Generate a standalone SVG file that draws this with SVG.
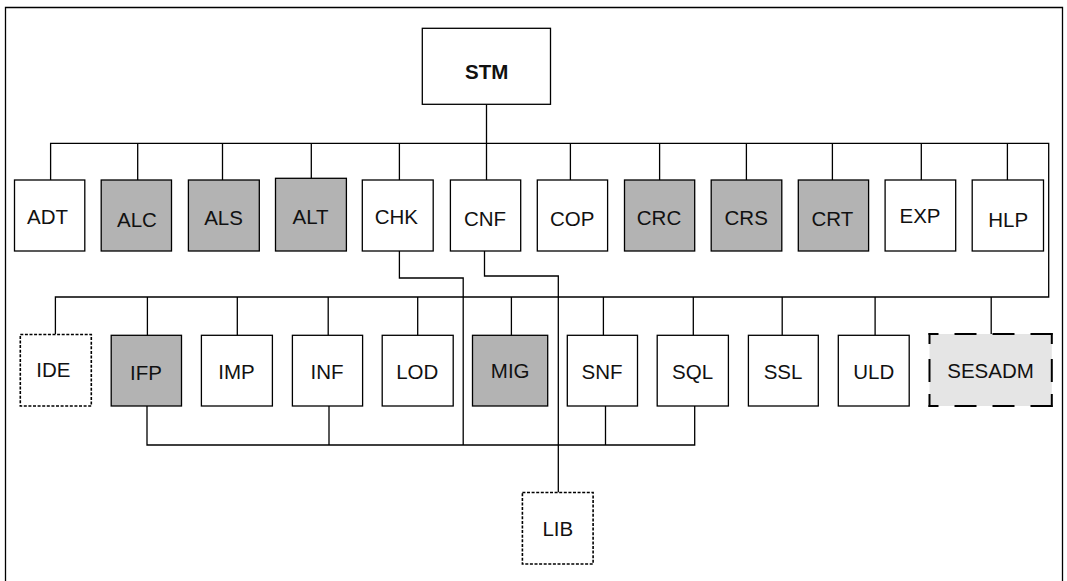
<svg xmlns="http://www.w3.org/2000/svg" width="1067" height="581" viewBox="0 0 1067 581">
<style>
  .box { fill: #ffffff; stroke: #000; stroke-width: 1.3; }
  .grey { fill: #b3b3b3; stroke: #000; stroke-width: 1.3; }
  .dot { fill: #ffffff; stroke: #000; stroke-width: 1.6; stroke-dasharray: 3 1.6; }
  .lbl { font-family: "Liberation Sans", Arial, sans-serif; font-size: 20.5px; fill: #111; text-anchor: middle; }
  .bold { font-weight: bold; }
  .ln { fill: none; stroke: #000; stroke-width: 1.3; }
  .sd { fill: none; stroke: #000; stroke-width: 2; }
</style>
<rect width="1067" height="581" fill="#ffffff"/>
<path class="ln" d="M5.5,590 V7.5 H1062.5 V590"/>
<g id="connectors">
  <path class="ln" d="M486.5,104.3 V143.3"/>
  <path class="ln" d="M50.6,180 V143.3 H1048.7 V297 H55.4 V334"/>
  <path class="ln" d="M137.7,143.3 V180 M222.5,143.3 V180 M311.3,143.3 V178.3 M399.4,143.3 V180 M570.4,143.3 V180 M659.6,143.3 V180 M746.4,143.3 V180 M832.4,143.3 V180 M921.3,143.3 V180 M1007.4,143.3 V180 M486.5,143.3 V180"/>
  <path class="ln" d="M147.4,297 V335.3 M237.3,297 V335.3 M328.2,297 V335.3 M417.7,297 V335.3 M511.4,297 V335.3 M603.4,297 V335.3 M693.3,297 V335.3 M782.2,297 V335.3 M875.1,297 V335.3 M991.2,297 V334"/>
  <path class="ln" d="M399.4,251 V278 H463.2 V445"/>
  <path class="ln" d="M484.5,251 V276 H558.3 V492.5"/>
  <path class="ln" d="M147,406 V445 H694.7 V406 M329,406 V445 M605.5,406 V445"/>
</g>
<g id="STM"><rect class="box" x="422.3" y="28.3" width="128.2" height="76"/><text class="lbl bold" x="486.7" y="79">STM</text></g>
<g id="ADT"><rect class="box" x="14.5" y="180" width="70.3" height="71"/><text class="lbl" x="47.5" y="224">ADT</text></g>
<g id="ALC"><rect class="grey" x="101.2" y="180" width="70.3" height="71"/><text class="lbl" x="137" y="226.7">ALC</text></g>
<g id="ALS"><rect class="grey" x="188.4" y="180" width="70.9" height="71"/><text class="lbl" x="223.5" y="225.3">ALS</text></g>
<g id="ALT"><rect class="grey" x="275.5" y="178.3" width="70.9" height="72.7"/><text class="lbl" x="310.6" y="224.3">ALT</text></g>
<g id="CHK"><rect class="box" x="362.3" y="180" width="70.9" height="71"/><text class="lbl" x="396.4" y="224">CHK</text></g>
<g id="CNF"><rect class="box" x="450.4" y="180" width="70.3" height="71"/><text class="lbl" x="485" y="225.7">CNF</text></g>
<g id="COP"><rect class="box" x="537.3" y="180" width="70.3" height="71"/><text class="lbl" x="572.2" y="225.7">COP</text></g>
<g id="CRC"><rect class="grey" x="624.5" y="180" width="70.2" height="71"/><text class="lbl" x="659" y="225.3">CRC</text></g>
<g id="CRS"><rect class="grey" x="711.2" y="180" width="70.6" height="71"/><text class="lbl" x="746.2" y="225.3">CRS</text></g>
<g id="CRT"><rect class="grey" x="798.3" y="180" width="70.3" height="71"/><text class="lbl" x="832.3" y="225.7">CRT</text></g>
<g id="EXP"><rect class="box" x="885.1" y="180" width="70.6" height="71"/><text class="lbl" x="920" y="223">EXP</text></g>
<g id="HLP"><rect class="box" x="972.2" y="180" width="71.3" height="71"/><text class="lbl" x="1008.2" y="226.7">HLP</text></g>
<g id="IDE"><rect class="dot" x="20.3" y="334.5" width="71" height="71.5"/><text class="lbl" x="53.4" y="377.3">IDE</text></g>
<g id="IFP"><rect class="grey" x="111.2" y="335.3" width="70.3" height="70.7"/><text class="lbl" x="146" y="380">IFP</text></g>
<g id="IMP"><rect class="box" x="201.4" y="335.3" width="71" height="70.7"/><text class="lbl" x="236.5" y="379">IMP</text></g>
<g id="INF"><rect class="box" x="292.4" y="335.3" width="70.2" height="70.7"/><text class="lbl" x="327" y="379">INF</text></g>
<g id="LOD"><rect class="box" x="382.2" y="335.3" width="71" height="70.7"/><text class="lbl" x="417.3" y="379">LOD</text></g>
<g id="MIG"><rect class="grey" x="472.5" y="335.3" width="75.2" height="70.7"/><text class="lbl" x="510.2" y="378">MIG</text></g>
<g id="SNF"><rect class="box" x="567.3" y="335.3" width="70.2" height="70.7"/><text class="lbl" x="602" y="379">SNF</text></g>
<g id="SQL"><rect class="box" x="657.2" y="335.3" width="71.2" height="70.7"/><text class="lbl" x="692.6" y="379">SQL</text></g>
<g id="SSL"><rect class="box" x="748.4" y="335.3" width="69.9" height="70.7"/><text class="lbl" x="783" y="379">SSL</text></g>
<g id="ULD"><rect class="box" x="838.3" y="335.3" width="70.9" height="70.7"/><text class="lbl" x="873.8" y="379">ULD</text></g>
<g id="SESADM">
  <rect x="929.5" y="334" width="122.3" height="72" fill="#e5e5e5"/>
  <line class="sd" x1="928.5" y1="334" x2="1052.8" y2="334" stroke-dasharray="10 16 22 16 22 16 22 100"/>
  <line class="sd" x1="928.5" y1="406" x2="1052.8" y2="406" stroke-dasharray="10 16 22 16 22 16 22 100"/>
  <line class="sd" x1="929.5" y1="333" x2="929.5" y2="407" stroke-dasharray="11 15 23 12 13 100"/>
  <line class="sd" x1="1051.8" y1="333" x2="1051.8" y2="407" stroke-dasharray="11 15 23 12 13 100"/>
  <text class="lbl" x="990.5" y="378">SESADM</text>
</g>
<g id="LIB"><rect class="dot" x="522.4" y="492.5" width="70.7" height="71.5"/><text class="lbl" x="557.8" y="535.7">LIB</text></g>
</svg>
